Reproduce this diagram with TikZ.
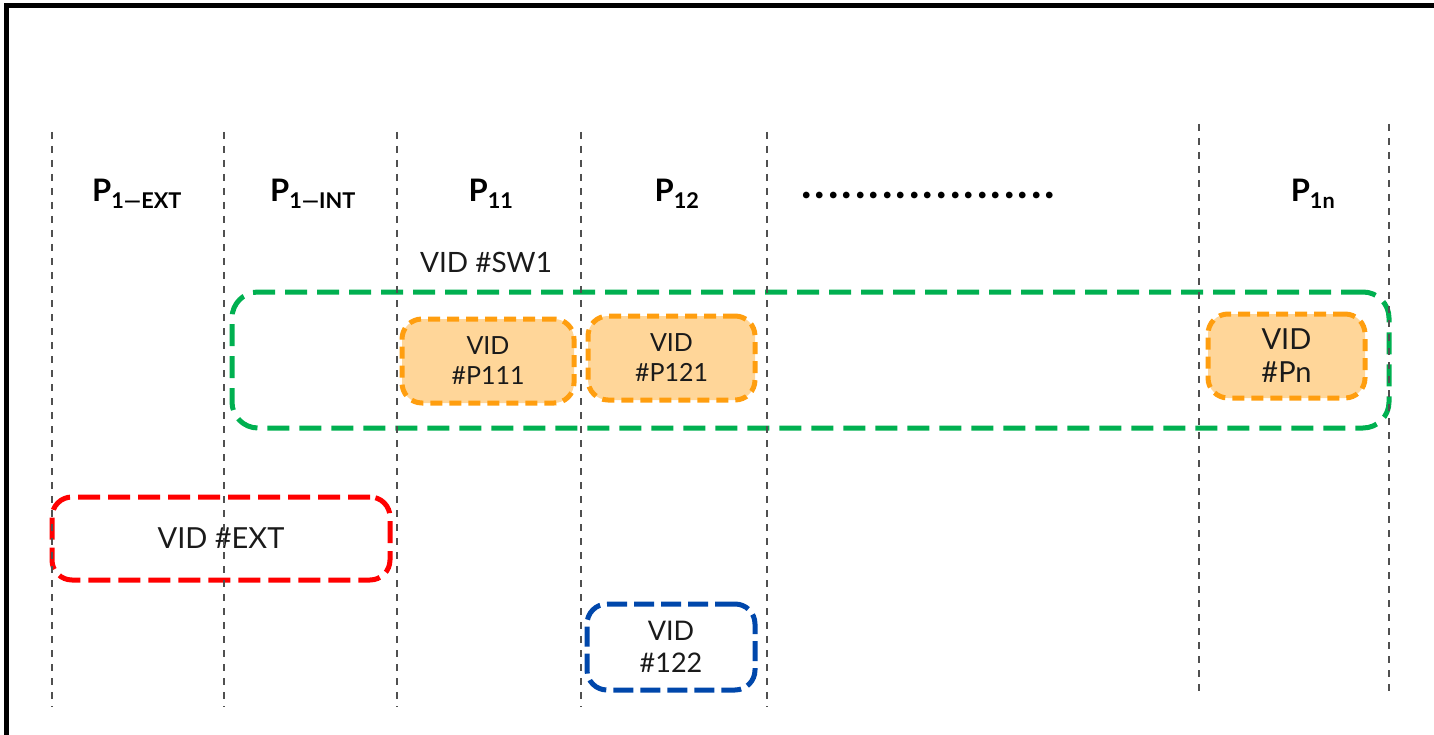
\documentclass[tikz,border=0pt]{standalone}
\usepackage{fontspec}
\setmainfont{Lato}
\usepackage{xcolor}
\usepackage{tikz}
\usetikzlibrary{positioning}
\definecolor{lanegray}{RGB}{80,80,80}
\definecolor{swgreen}{RGB}{0,176,80}
\definecolor{portorange}{RGB}{255,158,15}
\definecolor{portfill}{RGB}{255,214,153}
\definecolor{extred}{RGB}{255,0,0}
\definecolor{vlanblue}{RGB}{0,71,171}
\definecolor{inktext}{RGB}{26,26,26}

\begin{document}
\begin{tikzpicture}[
  x=1pt, y=-1pt,
  lanehead/.style={font=\fontsize{31}{34}\selectfont\bfseries, text=black, inner sep=0pt},
  laneline/.style={draw=lanegray, line width=2.4pt, dash pattern=on 7pt off 7pt},
  vidtext/.style={font=\fontsize{25}{30}\selectfont, text=inktext, align=center},
  vidbox/.style={vidtext, rounded corners=20pt, line width=5pt, inner sep=0pt},
  portbox/.style={vidbox, draw=portorange, fill=portfill, dash pattern=on 12pt off 7pt},
  swbox/.style={draw=swgreen, rounded corners=26pt, line width=5pt, dash pattern=on 22pt off 10pt, inner sep=0pt},
  extbox/.style={vidbox, draw=extred, dash pattern=on 22pt off 8pt},
  localbox/.style={vidbox, draw=vlanblue, dash pattern=on 20pt off 7pt}
]
  \useasboundingbox (0,0) rectangle (1434,735);
  \draw[line width=5pt] (6,735) -- (6,6) -- (1434,6);

  % lane headings
  \node[lanehead] (hext) at (137,194) {P\textsubscript{1—EXT}};
  \node[lanehead] (hint) at (313,194) {P\textsubscript{1—INT}};
  \node[lanehead] (h11) at (491,194) {P\textsubscript{11}};
  \node[lanehead] (h12) at (677,194) {P\textsubscript{12}};
  \node[lanehead, anchor=base, font=\fontsize{44}{48}\selectfont\bfseries\addfontfeature{LetterSpace=7}] (hdots) at (928,199) {...................};
  \node[lanehead] (h1n) at (1313,194) {P\textsubscript{1n}};

  % switch group and port VIDs
  \node[swbox, minimum width=1157, minimum height=136] (sw1) at (810.5,360) {};
  \node[vidtext, font=\fontsize{28}{32}\selectfont, inner sep=0pt] (sw1lbl) at (486,262) {VID \#SW1};
  \node[portbox, minimum width=172, minimum height=84] (p111) at (488,361) {VID\\\#P111};
  \node[portbox, minimum width=167, minimum height=84] (p121) at (671.5,358) {VID\\\#P121};
  \node[portbox, minimum width=157, minimum height=84, font=\fontsize{29}{33}\selectfont] (pn) at (1286.5,356) {VID\\\#Pn};

  \node[extbox, minimum width=338, minimum height=83, font=\fontsize{29}{33}\selectfont] (ext) at (221,538.5) {VID \#EXT};
  \node[localbox, minimum width=168, minimum height=86, font=\fontsize{27}{32}\selectfont] (v122) at (671,647) {VID\\\#122};

  % lane borders
  \foreach \lx in {52,224,397,581,767}
    \draw[laneline] (\lx,132) -- (\lx,707);
  \foreach \lx in {1199,1389}
    \draw[laneline] (\lx,124) -- (\lx,698);
\end{tikzpicture}
\end{document}
